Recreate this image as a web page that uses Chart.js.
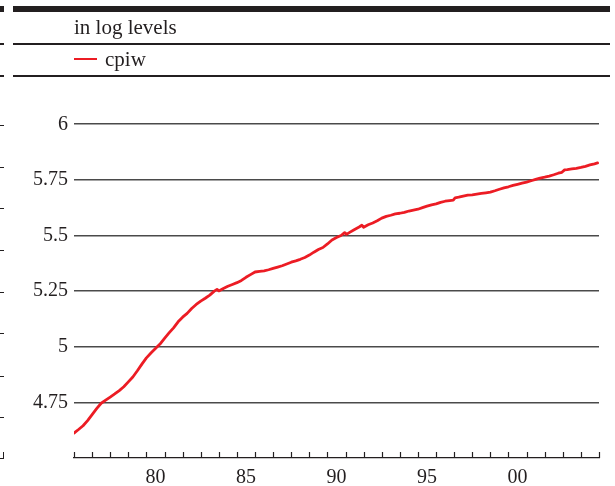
<!DOCTYPE html>
<html>
<head>
<meta charset="utf-8">
<script src="https://cdn.jsdelivr.net/npm/chart.js@4/dist/chart.umd.min.js"></script>
<style>
  html, body { margin: 0; padding: 0; background: #fff; }
  #wrap { position: relative; width: 615px; height: 486px; overflow: hidden; font-family: "Liberation Serif", "Times New Roman", serif; color: #231f20; }
  #wrap canvas { position: absolute; left: 0; top: 0; }
  .rule { position: absolute; background: #231f20; }
  .hdr { position: absolute; font-size: 21px; line-height: 1; white-space: nowrap; }
  .key { position: absolute; height: 2.2px; background: #ec1c24; }
</style>
</head>
<body>
<div id="wrap">
  <canvas id="chart" width="615" height="486"></canvas>
  <!-- frame rules of the panel header -->
  <div class="rule" style="left:13px; top:6px; width:597px; height:6px;"></div>
  <div class="rule" style="left:13px; top:43px; width:597px; height:1.5px;"></div>
  <div class="rule" style="left:13px; top:75px; width:597px; height:1.5px;"></div>
  <!-- edge of the adjacent panel's frame -->
  <div class="rule" style="left:0; top:6px; width:4px; height:6px;"></div>
  <div class="rule" style="left:0; top:43px; width:4px; height:1.5px;"></div>
  <div class="rule" style="left:0; top:75px; width:4px; height:1.5px;"></div>
  <div id="edgeTicks"></div>
  <div class="hdr" style="left:74px; top:17px;">in log levels</div>
  <div class="key" style="left:74px; top:58px; width:23px;"></div>
  <div class="hdr" style="left:105px; top:49px;">cpiw</div>
</div>
<script>
// CPI-W, log levels (decimal year, value)
const years = [
  1976.00, 1976.25, 1976.50, 1976.75, 1977.00, 1977.25, 1977.50, 1977.75,
  1978.00, 1978.25, 1978.50, 1978.75, 1979.00, 1979.25, 1979.50, 1979.75,
  1980.00, 1980.25, 1980.50, 1980.75, 1981.00, 1981.25, 1981.50, 1981.75,
  1982.00, 1982.25, 1982.50, 1982.75, 1983.00, 1983.25, 1983.50, 1983.75, 1983.90,
  1984.00, 1984.25, 1984.50, 1984.75, 1985.00, 1985.25, 1985.50, 1985.75,
  1986.00, 1986.25, 1986.50, 1986.75, 1987.00, 1987.25, 1987.50, 1987.75,
  1988.00, 1988.25, 1988.50, 1988.75, 1989.00, 1989.25, 1989.50, 1989.75,
  1990.00, 1990.25, 1990.50, 1990.75, 1990.95, 1991.05, 1991.25, 1991.50, 1991.75, 1991.90,
  1992.00, 1992.25, 1992.50, 1992.75, 1993.00, 1993.25, 1993.50, 1993.75,
  1994.00, 1994.25, 1994.50, 1994.75, 1995.00, 1995.25, 1995.50, 1995.75,
  1996.00, 1996.25, 1996.50, 1996.75, 1996.95, 1997.05, 1997.25, 1997.50, 1997.75,
  1998.00, 1998.25, 1998.50, 1998.75, 1999.00, 1999.25, 1999.50, 1999.75,
  2000.00, 2000.25, 2000.50, 2000.75, 2001.00, 2001.25, 2001.50, 2001.75,
  2002.00, 2002.25, 2002.50, 2002.75, 2002.95, 2003.10, 2003.25, 2003.50, 2003.75,
  2004.00, 2004.25, 2004.50, 2004.75, 2004.92
];
const cpiw = [
  4.612, 4.628, 4.645, 4.668, 4.695, 4.722, 4.746, 4.760,
  4.774, 4.788, 4.803, 4.820, 4.842, 4.864, 4.892, 4.922,
  4.950, 4.972, 4.992, 5.012, 5.038, 5.062, 5.085, 5.112,
  5.133, 5.150, 5.172, 5.190, 5.205, 5.218, 5.232, 5.250, 5.258,
  5.251, 5.262, 5.272, 5.280, 5.288, 5.298, 5.312, 5.324,
  5.336, 5.339, 5.341, 5.346, 5.352, 5.358, 5.364, 5.372,
  5.380, 5.386, 5.393, 5.401, 5.412, 5.425, 5.437, 5.446,
  5.462, 5.480, 5.491, 5.500, 5.513, 5.505, 5.515, 5.527, 5.538, 5.546,
  5.537, 5.548, 5.556, 5.566, 5.578, 5.586, 5.591, 5.597,
  5.600, 5.604, 5.610, 5.614, 5.618, 5.625, 5.632, 5.638,
  5.642, 5.649, 5.654, 5.657, 5.659, 5.669, 5.672, 5.677, 5.681,
  5.683, 5.686, 5.689, 5.692, 5.695, 5.701, 5.708, 5.714,
  5.719, 5.725, 5.730, 5.735, 5.740, 5.746, 5.752, 5.758,
  5.762, 5.767, 5.773, 5.780, 5.784, 5.795, 5.796, 5.799, 5.802,
  5.806, 5.811, 5.817, 5.822, 5.826
];

// axis ticks
const yTickValues = [4.75, 5, 5.25, 5.5, 5.75, 6];
const yTickLabels = ['4.75', '5', '5.25', '5.5', '5.75', '6'];
const xFirstYear = 1976, xLastYear = 2005;
const xLabelYears = [1980, 1985, 1990, 1995, 2000];
const xTickLabels = ['80', '85', '90', '95', '00'];

// short tick stubs along the left edge (adjacent panel)
(function () {
  const box = document.getElementById('edgeTicks');
  const ys = [125, 166.7, 208.3, 250, 292, 333.3, 375.7, 416.7, 458];
  ys.forEach(function (y) {
    const d = document.createElement('div');
    d.className = 'rule';
    d.style.cssText = 'left:0;top:' + y + 'px;width:4px;height:1.2px;';
    box.appendChild(d);
  });
  const v = document.createElement('div');
  v.className = 'rule';
  v.style.cssText = 'left:3px;top:452px;width:1.2px;height:6px;';
  box.appendChild(v);
})();

const INK = '#231f20';
const RED = '#ec1c24';
const FONT = { family: "'Liberation Serif', 'Times New Roman', serif", size: 20 };

// upward year marks on the time axis, one per calendar year
const yearMarks = {
  id: 'yearMarks',
  afterDraw(chart) {
    const xs = chart.scales.x;
    const ctx = chart.ctx;
    ctx.save();
    ctx.strokeStyle = INK;
    ctx.lineWidth = 1.2;
    for (let y = xFirstYear; y <= xLastYear; y++) {
      const px = Math.round(xs.getPixelForValue(y)) + 0.5;
      ctx.beginPath();
      ctx.moveTo(px, xs.top);
      ctx.lineTo(px, xs.top - 6);
      ctx.stroke();
    }
    ctx.restore();
  }
};

new Chart(document.getElementById('chart'), {
  type: 'line',
  data: {
    datasets: [{
      label: 'cpiw',
      data: years.map((x, i) => ({ x: x, y: cpiw[i] })),
      borderColor: RED,
      borderWidth: 2.8,
      pointRadius: 0,
      tension: 0,
      borderJoinStyle: 'round',
      borderCapStyle: 'round'
    }]
  },
  plugins: [yearMarks],
  options: {
    responsive: false,
    animation: false,
    layout: { padding: { top: 102, right: 16, bottom: 0, left: 0 } },
    plugins: { legend: { display: false }, title: { display: false }, tooltip: { enabled: false } },
    scales: {
      x: {
        type: 'linear',
        min: xFirstYear,
        max: xLastYear,
        // labels sit mid-year, between the year marks
        afterBuildTicks: (scale) => { scale.ticks = xLabelYears.map(y => ({ value: y + 0.5 })); },
        afterFit: (scale) => { scale.height = 28; },
        border: { display: true, color: INK, width: 1.3 },
        grid: { display: false, drawOnChartArea: false, drawTicks: false },
        ticks: {
          autoSkip: false,
          maxRotation: 0,
          padding: 8,
          color: INK,
          font: FONT,
          callback: (value) => {
            const i = xLabelYears.indexOf(value - 0.5);
            return i >= 0 ? xTickLabels[i] : '';
          }
        }
      },
      y: {
        min: 4.5,
        max: 6.1,
        afterBuildTicks: (scale) => { scale.ticks = yTickValues.map(v => ({ value: v })); },
        afterFit: (scale) => { scale.width = 74; },
        border: { display: false },
        grid: { drawTicks: false, color: '#4a4a4a', lineWidth: 1.5 },
        ticks: {
          padding: 6,
          color: INK,
          font: FONT,
          callback: (value) => {
            const i = yTickValues.indexOf(value);
            return i >= 0 ? yTickLabels[i] : '';
          }
        }
      }
    }
  }
});
</script>
</body>
</html>
